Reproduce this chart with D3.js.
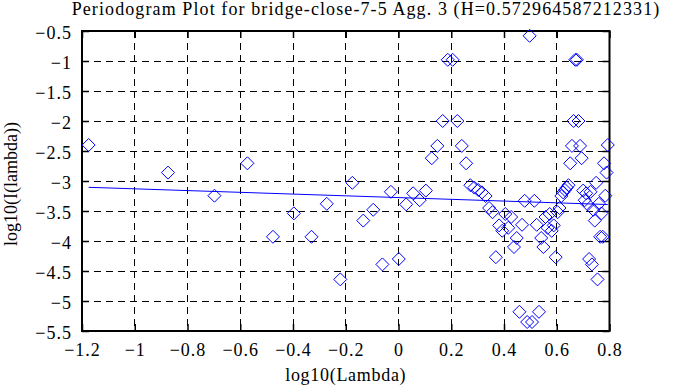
<!DOCTYPE html>
<html>
<head>
<meta charset="utf-8">
<script src="https://cdn.jsdelivr.net/npm/d3@7"></script>
<style>
body { margin:0; background:#fff; }
text { font-family:"Liberation Serif", "DejaVu Serif", serif; }
</style>
</head>
<body>
<script>
// log10 of frequency for each periodogram point
var lambdaVals = [
 -1.1749,-0.8739,-0.6978,-0.5729,-0.4760,-0.3968,-0.3299,-0.2719,-0.2207,-0.1749,
 -0.1336,-0.0958,-0.0610,-0.0288,0.0011,0.0292,0.0555,0.0803,0.1038,0.1261,
 0.1473,0.1675,0.1868,0.2053,0.2230,0.2400,0.2564,0.2722,0.2874,0.3022,
 0.3164,0.3302,0.3436,0.3565,0.3691,0.3814,0.3933,0.4048,0.4161,0.4271,
 0.4378,0.4483,0.4585,0.4685,0.4783,0.4878,0.4971,0.5063,0.5152,0.5240,
 0.5326,0.5411,0.5493,0.5574,0.5654,0.5732,0.5809,0.5885,0.5959,0.6032,
 0.6104,0.6174,0.6244,0.6312,0.6380,0.6446,0.6511,0.6576,0.6639,0.6702,
 0.6763,0.6824,0.6884,0.6943,0.7001,0.7059,0.7115,0.7171,0.7227,0.7281,
 0.7335,0.7389,0.7441,0.7493,0.7545,0.7595,0.7646,0.7695,0.7744,0.7793,
 0.7841,0.7888,0.7935
];
// log10 of periodogram value
var powerVals = [
 -2.40,-2.86,-3.245,-2.705,-3.93,-3.54,-3.93,-3.38,-4.64,-3.03,
 -3.66,-3.48,-4.39,-3.18,-4.30,-3.39,-3.205,-3.32,-3.16,-2.62,
 -2.415,-2.00,-0.98,-0.98,-2.00,-2.415,-2.705,-3.07,-3.11,-3.15,
 -3.19,-3.25,-3.45,-3.52,-4.27,-3.74,-3.83,-3.55,-3.78,-3.60,
 -4.10,-3.95,-5.18,-3.73,-3.33,-5.35,-0.58,-5.35,-3.33,-3.73,
 -5.18,-3.95,-4.10,-3.60,-3.78,-3.55,-3.83,-3.74,-4.27,-3.52,
 -3.45,-3.25,-3.19,-3.15,-3.11,-3.07,-2.705,-2.415,-2.00,-0.98,
 -0.98,-2.00,-2.415,-2.62,-3.16,-3.32,-3.205,-3.39,-4.30,-3.18,
 -4.39,-3.48,-3.66,-3.03,-4.64,-3.38,-3.93,-3.54,-3.93,-2.705,
 -3.245,-2.86,-2.40
];
// least squares fit, end points
var fitX = [-1.1749, 0.7935];
var fitY = [-3.105, -3.392];

var xTicks = [-1.2,-1,-0.8,-0.6,-0.4,-0.2,0,0.2,0.4,0.6,0.8];
var yTicks = [-0.5,-1,-1.5,-2,-2.5,-3,-3.5,-4,-4.5,-5,-5.5];

var titleText = "Periodogram Plot for bridge-close-7-5 Agg. 3 (H=0.572964587212331)";
var xLabel = "log10(Lambda)";
var yLabel = "log10(I(lambda))";

function init(){
	var w = 683, h = 387;
	var left = 82, right = 609.5, top = 31, bottom = 331;

	var svg = d3.select("body").append("svg")
		.attr("width", w)
		.attr("height", h);

	svg.append("rect").attr("width", w).attr("height", h).attr("fill", "#fff");

	var xScale = d3.scaleLinear().domain([-1.2, 0.8]).range([left, right]);
	var yScale = d3.scaleLinear().domain([-5.5, -0.5]).range([bottom, top]);

	// grid
	svg.append("g").selectAll("line")
		.data(xTicks.slice(1, -1))
		.enter().append("line")
		.attr("x1", function(d){ return xScale(d); })
		.attr("x2", function(d){ return xScale(d); })
		.attr("y1", top).attr("y2", bottom)
		.attr("stroke", "#000").attr("stroke-width", 1)
		.attr("stroke-dasharray", "7,5")
		.attr("shape-rendering", "crispEdges");

	svg.append("g").selectAll("line")
		.data(yTicks.slice(1, -1))
		.enter().append("line")
		.attr("y1", function(d){ return yScale(d); })
		.attr("y2", function(d){ return yScale(d); })
		.attr("x1", left).attr("x2", right)
		.attr("stroke", "#000").attr("stroke-width", 1)
		.attr("stroke-dasharray", "7,5")
		.attr("shape-rendering", "crispEdges");

	// axes with inner ticks
	var xAxis = d3.axisBottom(xScale).tickValues(xTicks).tickSize(-7).tickPadding(0)
		.tickFormat(function(d){ return d3.format("")(d); });
	var gx = svg.append("g").attr("transform", "translate(0," + bottom + ")").call(xAxis);
	svg.append("g").attr("transform", "translate(0," + top + ")")
		.call(d3.axisTop(xScale).tickValues(xTicks).tickSize(-7).tickFormat(""));

	var yAxis = d3.axisLeft(yScale).tickValues(yTicks).tickSize(-7).tickPadding(10)
		.tickFormat(function(d){ return d3.format("")(d); });
	var gy = svg.append("g").attr("transform", "translate(" + left + ",0)").call(yAxis);
	svg.append("g").attr("transform", "translate(" + right + ",0)")
		.call(d3.axisRight(yScale).tickValues(yTicks).tickSize(-7).tickFormat(""));

	svg.selectAll(".domain").remove();
	svg.selectAll(".tick line").attr("stroke", "#000").attr("stroke-width", 1.5);
	svg.selectAll(".tick text")
		.style("font-family", "'Liberation Serif', serif")
		.style("font-size", "18px")
		.style("letter-spacing", "1px")
		.attr("fill", "#000");
	gx.selectAll(".tick text").attr("y", 25).attr("dy", 0);
	gy.selectAll(".tick text").attr("dy", "0.42em");

	// frame
	svg.append("rect")
		.attr("x", left).attr("y", top)
		.attr("width", right - left).attr("height", bottom - top)
		.attr("fill", "none").attr("stroke", "#000").attr("stroke-width", 2);

	// fit line
	svg.append("line")
		.attr("x1", xScale(fitX[0])).attr("y1", yScale(fitY[0]))
		.attr("x2", xScale(fitX[1])).attr("y2", yScale(fitY[1]))
		.attr("stroke", "#0000ff").attr("stroke-width", 1);

	// points (open diamonds)
	var s = 6.5;
	svg.append("g").selectAll("path")
		.data(lambdaVals)
		.enter().append("path")
		.attr("d", function(d, i){
			var cx = xScale(d), cy = yScale(powerVals[i]);
			return "M" + cx + "," + (cy - s) + "L" + (cx + s) + "," + cy +
				"L" + cx + "," + (cy + s) + "L" + (cx - s) + "," + cy + "Z";
		})
		.attr("fill", "none")
		.attr("stroke", "#0000ff")
		.attr("stroke-width", 1);

	// labels
	svg.append("text")
		.attr("x", 366).attr("y", 15)
		.attr("text-anchor", "middle")
		.style("font-size", "18px")
		.style("letter-spacing", "1.1px")
		.text(titleText);

	svg.append("text")
		.attr("x", (left + right) / 2).attr("y", 381)
		.attr("text-anchor", "middle")
		.style("font-size", "18px")
		.style("letter-spacing", "0.7px")
		.text(xLabel);

	svg.append("text")
		.attr("transform", "translate(17,184) rotate(-90)")
		.attr("text-anchor", "middle")
		.style("font-size", "18px")
		.text(yLabel);
}

window.onload = init;
</script>
</body>
</html>
